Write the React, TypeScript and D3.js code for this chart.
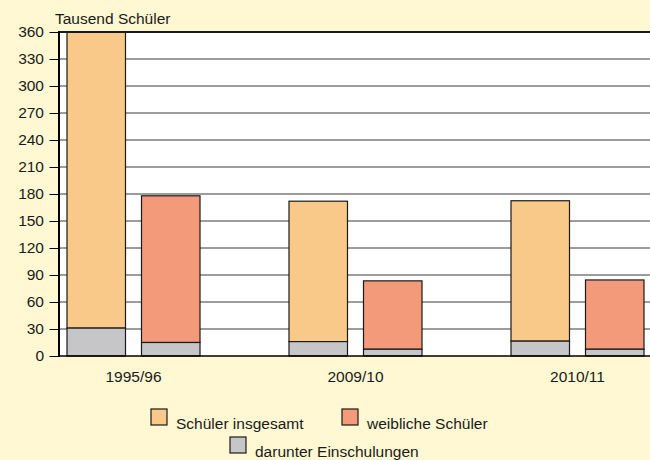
import { useEffect, useRef } from "react";
import * as d3 from "d3";

const years = ["1995/96", "2009/10", "2010/11"];
const totalPupils = [360, 172, 172.5];
const femalePupils = [178, 83.5, 84.5];
const enrolTotal = [31, 16, 16.5];
const enrolFemale = [15, 7.5, 7.5];
const yTicks = [0, 30, 60, 90, 120, 150, 180, 210, 240, 270, 300, 330, 360];

const seriesKeys = ["total", "female"];
const colors: Record<string, string> = { total: "#F9C98A", female: "#F29A7A", enrol: "#C6C6C8" };

export default function App() {
  const ref = useRef<SVGSVGElement | null>(null);

  useEffect(() => {
    if (!ref.current) return;
    const svg = d3.select(ref.current);
    svg.selectAll("*").remove();

    const width = 650;
    const height = 460;
    const font = "'Liberation Sans', Arial, sans-serif";
    const fs = 15.5;
    const plot = { left: 59, right: 650, top: 32, bottom: 356 };

    svg.append("rect").attr("width", width).attr("height", height).attr("fill", "#FFF8D2");
    svg.append("rect")
      .attr("x", plot.left).attr("y", plot.top)
      .attr("width", plot.right - plot.left).attr("height", plot.bottom - plot.top)
      .attr("fill", "#fff");

    const y = d3.scaleLinear().domain([0, 360]).range([plot.bottom, plot.top]);

    // Gitterlinien
    svg.append("g").selectAll("line")
      .data(yTicks.filter(t => t > 0 && t < 360))
      .join("line")
      .attr("x1", plot.left).attr("x2", plot.right)
      .attr("y1", d => y(d)).attr("y2", d => y(d))
      .attr("stroke", "#3a3a3a").attr("stroke-width", 1);

    // Gruppen
    const x0 = d3.scaleBand<string>()
      .domain(years)
      .range([67, 67 + 3 * 222 - 89])
      .paddingInner(89 / 222)
      .paddingOuter(0);
    const x1 = d3.scaleBand<string>()
      .domain(seriesKeys)
      .range([0, x0.bandwidth()])
      .paddingInner(16 / 74.5);

    const bars = years.flatMap((yr, i) => [
      { yr, key: "total", value: totalPupils[i], enrol: enrolTotal[i] },
      { yr, key: "female", value: femalePupils[i], enrol: enrolFemale[i] },
    ]);

    const g = svg.append("g");
    const bx = (d: { yr: string; key: string }) => (x0(d.yr) ?? 0) + (x1(d.key) ?? 0);

    g.selectAll("rect.main")
      .data(bars)
      .join("rect")
      .attr("class", "main")
      .attr("x", d => bx(d))
      .attr("y", d => y(d.value))
      .attr("width", x1.bandwidth())
      .attr("height", d => y(d.enrol) - y(d.value))
      .attr("fill", d => colors[d.key])
      .attr("stroke", "#1a1a1a").attr("stroke-width", 1.2);

    g.selectAll("rect.enrol")
      .data(bars)
      .join("rect")
      .attr("class", "enrol")
      .attr("x", d => bx(d))
      .attr("y", d => y(d.enrol))
      .attr("width", x1.bandwidth())
      .attr("height", d => y(0) - y(d.enrol))
      .attr("fill", colors.enrol)
      .attr("stroke", "#1a1a1a").attr("stroke-width", 1.2);

    // Rahmen
    svg.append("line")
      .attr("x1", plot.left).attr("x2", plot.right)
      .attr("y1", plot.top).attr("y2", plot.top)
      .attr("stroke", "#1a1a1a").attr("stroke-width", 2);
    svg.append("line")
      .attr("x1", plot.left - 1).attr("x2", plot.right)
      .attr("y1", plot.bottom).attr("y2", plot.bottom)
      .attr("stroke", "#000").attr("stroke-width", 1.5);
    svg.append("line")
      .attr("x1", plot.left).attr("x2", plot.left)
      .attr("y1", plot.top - 1).attr("y2", plot.bottom + 1)
      .attr("stroke", "#000").attr("stroke-width", 2);

    // y-Achse
    const yAxis = d3.axisLeft(y).tickValues(yTicks).tickSize(9).tickPadding(5.5);
    const ya = svg.append("g")
      .attr("transform", `translate(${plot.left - 0.5},0)`)
      .call(yAxis);
    ya.select(".domain").remove();
    ya.selectAll("line").attr("stroke", "#000").attr("stroke-width", 1);
    ya.selectAll("text")
      .attr("font-family", font).attr("font-size", fs).attr("fill", "#1a1a1a");

    svg.append("text")
      .attr("x", 55).attr("y", 24)
      .attr("font-family", font).attr("font-size", fs).attr("fill", "#1a1a1a")
      .text("Tausend Schüler");

    // x-Beschriftung
    svg.append("g").selectAll("text")
      .data(years)
      .join("text")
      .attr("x", d => (x0(d) ?? 0) + x0.bandwidth() / 2)
      .attr("y", 382)
      .attr("text-anchor", "middle")
      .attr("font-family", font).attr("font-size", fs).attr("fill", "#1a1a1a")
      .text(d => d);

    // Legende
    const legend = [
      { label: "Schüler insgesamt", color: colors.total, x: 151, y: 409 },
      { label: "weibliche Schüler", color: colors.female, x: 342, y: 409 },
      { label: "darunter Einschulungen", color: colors.enrol, x: 230, y: 437 },
    ];
    const lg = svg.append("g").selectAll("g").data(legend).join("g")
      .attr("transform", d => `translate(${d.x},${d.y})`);
    lg.append("rect")
      .attr("width", 16).attr("height", 16)
      .attr("fill", d => d.color)
      .attr("stroke", "#1a1a1a").attr("stroke-width", 1.2);
    lg.append("text")
      .attr("x", 25).attr("y", 19.5)
      .attr("font-family", font).attr("font-size", fs).attr("fill", "#1a1a1a")
      .text(d => d.label);
  }, []);

  return (
    <svg
      ref={ref}
      width={650}
      height={460}
      style={{ position: "absolute", left: 0, top: 0, display: "block" }}
    />
  );
}
